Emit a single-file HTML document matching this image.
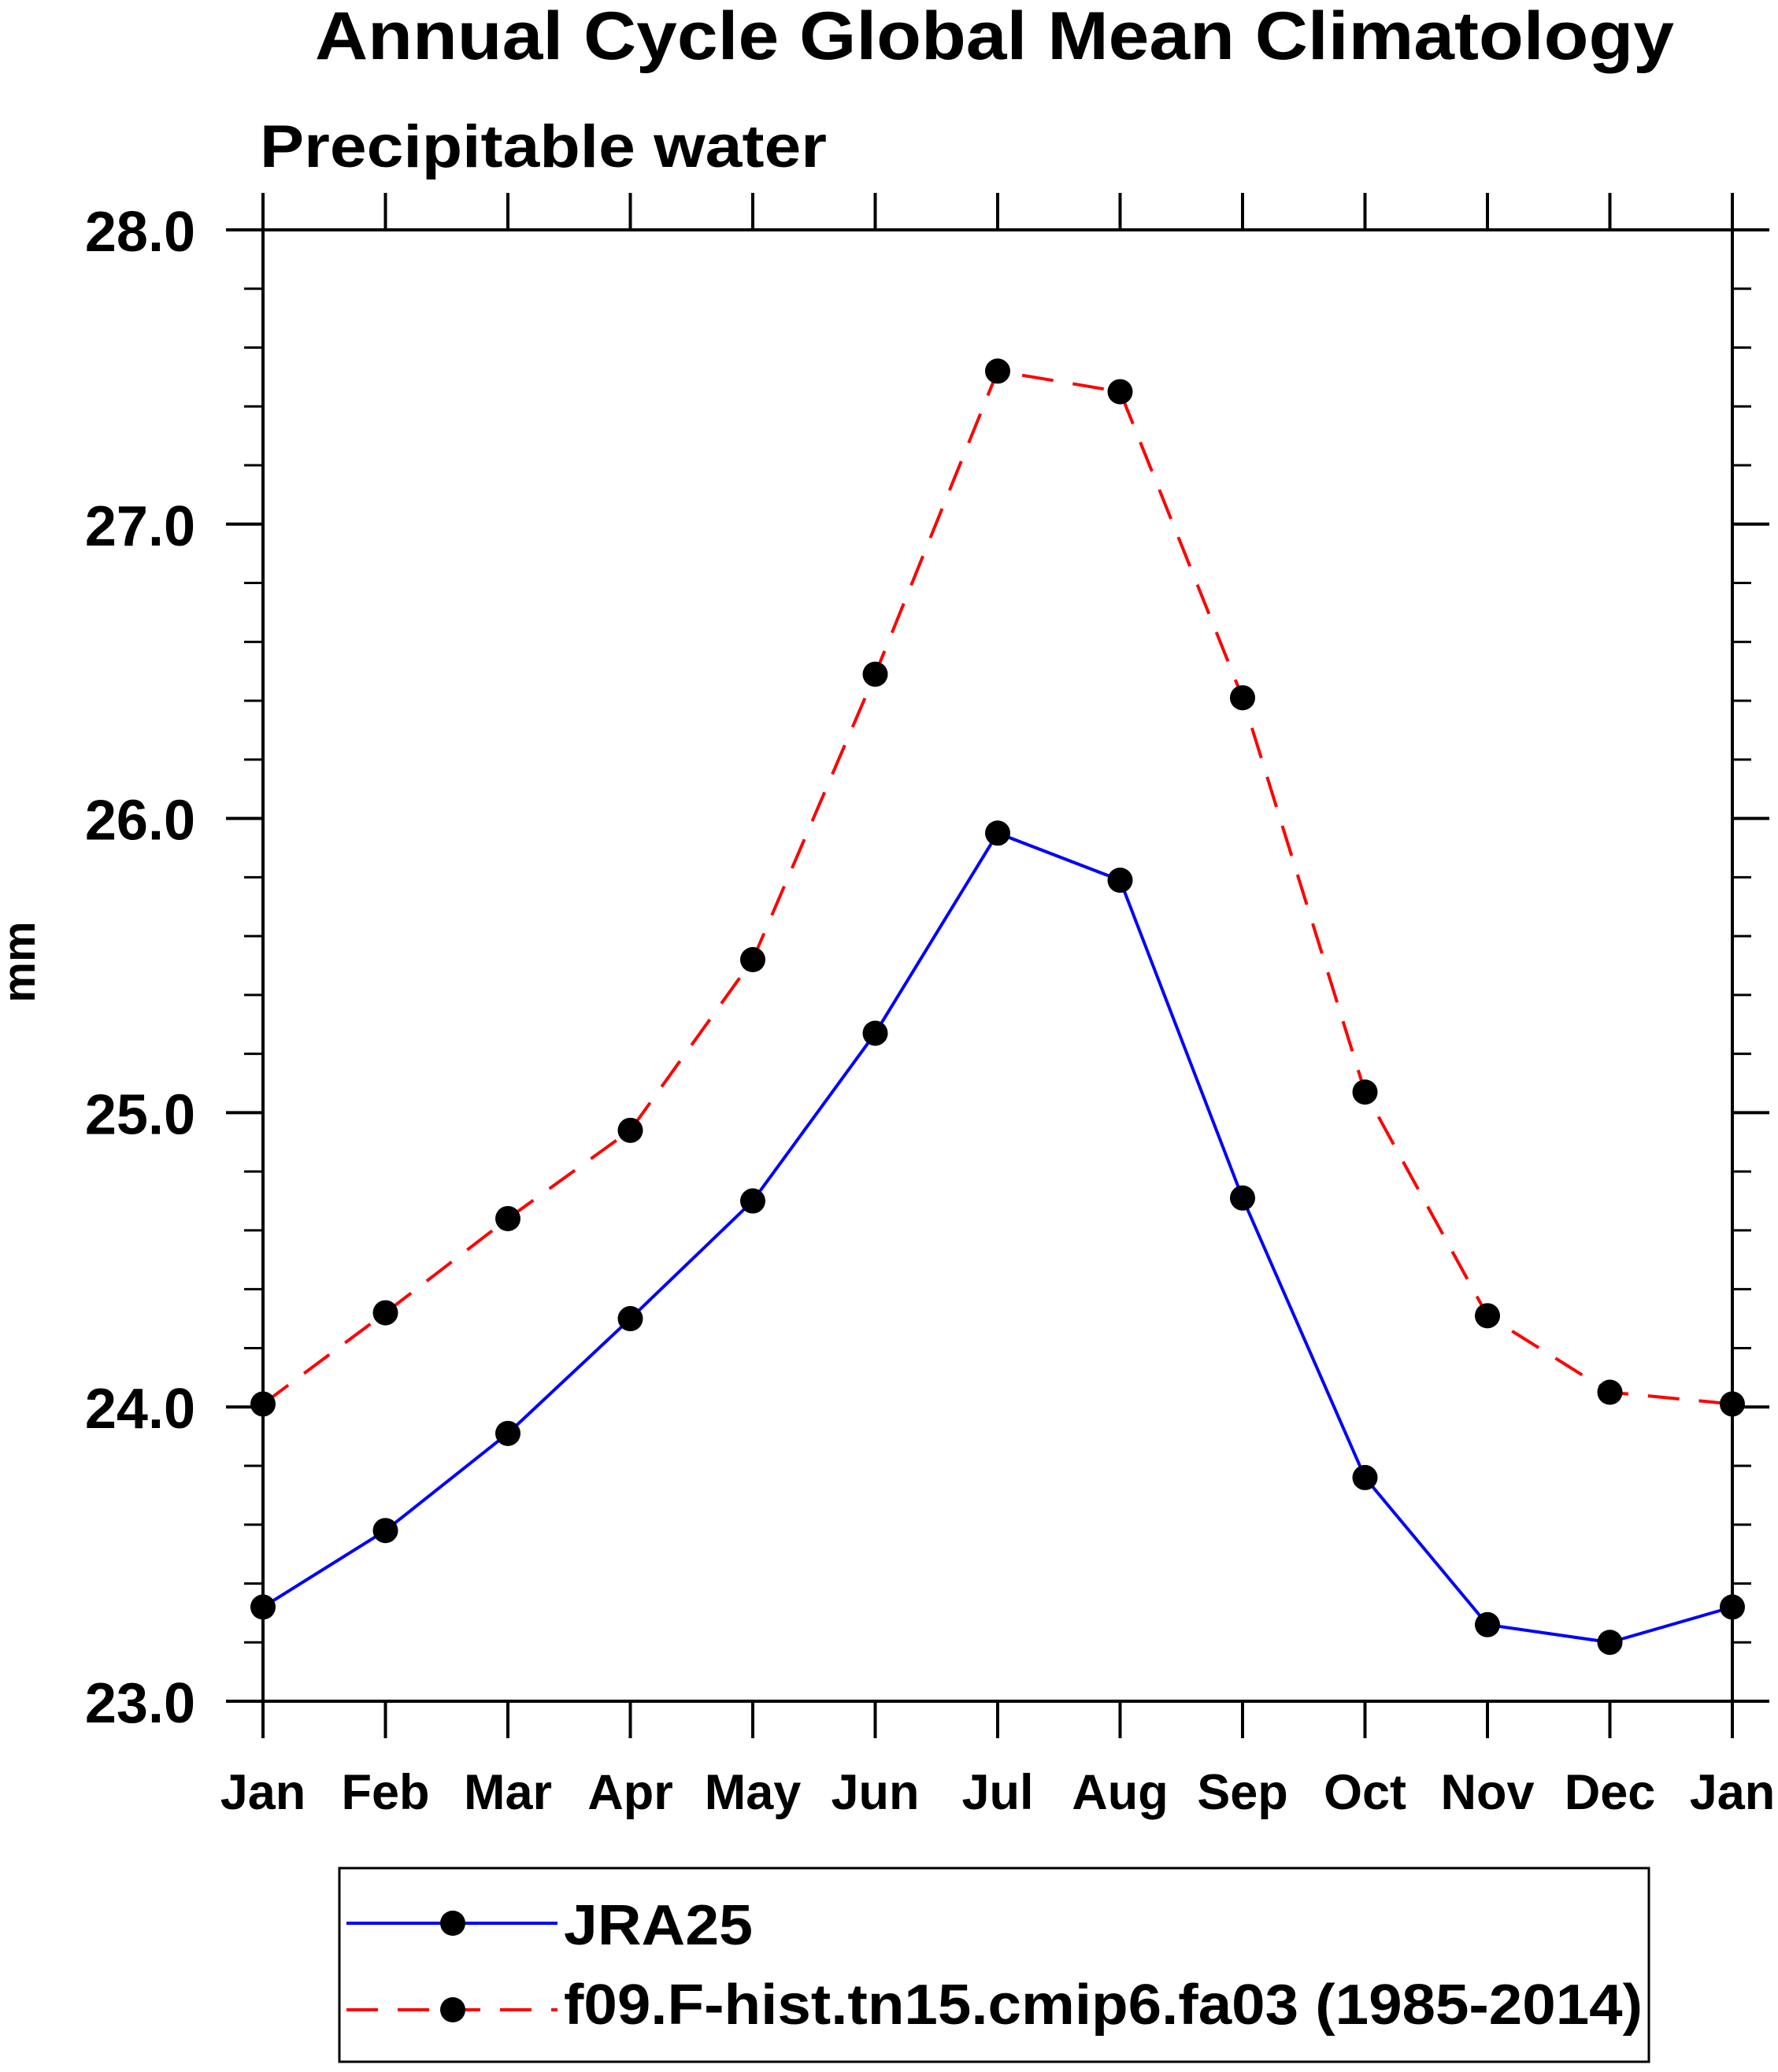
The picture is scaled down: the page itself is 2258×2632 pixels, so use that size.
<!DOCTYPE html>
<html><head><meta charset="utf-8"><style>
html,body{margin:0;padding:0;background:#fff;}
svg{display:block;font-family:"Liberation Sans",Arial,sans-serif;font-weight:bold;}
</style></head><body>
<svg id="chart" width="2258" height="2632" viewBox="0 0 2258 2632" xmlns="http://www.w3.org/2000/svg">
<text x="1263" y="75" font-size="86" text-anchor="middle" textLength="1726" lengthAdjust="spacingAndGlyphs">Annual Cycle Global Mean Climatology</text>
<text x="330" y="212" font-size="76" textLength="720" lengthAdjust="spacingAndGlyphs">Precipitable water</text>
<text transform="translate(44,1222) rotate(-90)" font-size="58" text-anchor="middle">mm</text>
<g id="axes"></g>
<g id="series"></g>
<g id="legend">
<rect x="431" y="2373" width="1663" height="246" fill="none" stroke="#000" stroke-width="3"/>
<g>
<line x1="440" y1="2443" x2="708" y2="2443" stroke="#0000ff" stroke-width="4"/>
<circle cx="575" cy="2443" r="16" fill="#000"/>
<text x="716" y="2470" font-size="72" textLength="240" lengthAdjust="spacingAndGlyphs">JRA25</text>
</g>
<g>
<line x1="440" y1="2553" x2="708" y2="2553" stroke="#ff0000" stroke-width="4" stroke-dasharray="40,25"/>
<circle cx="575" cy="2553" r="16" fill="#000"/>
<text x="716" y="2571" font-size="72" textLength="1370" lengthAdjust="spacingAndGlyphs">f09.F-hist.tn15.cmip6.fa03 (1985-2014)</text>
</g>
</g>
</svg>
<script>
const months = ["Jan","Feb","Mar","Apr","May","Jun","Jul","Aug","Sep","Oct","Nov","Dec","Jan"];
const jra25 = [23.32,23.58,23.91,24.30,24.70,25.27,25.95,25.79,24.71,23.76,23.26,23.20,23.32];
const model = [24.01,24.32,24.64,24.94,25.52,26.49,27.52,27.45,26.41,25.07,24.31,24.05,24.01];
const yTicks = [23.0,24.0,25.0,26.0,27.0,28.0];
const yTickLabels = ["23.0","24.0","25.0","26.0","27.0","28.0"];

const NS="http://www.w3.org/2000/svg";
const L=334,R=2200,T=292,B=2161,yMin=23,yMax=28;
function xs(i){return L+(R-L)*i/(months.length-1);}
function ys(v){return B-(v-yMin)/(yMax-yMin)*(B-T);}
function mk(tag,attrs,parent){const e=document.createElementNS(NS,tag);for(const k in attrs)e.setAttribute(k,attrs[k]);parent.appendChild(e);return e;}
const ax=document.getElementById('axes');
const frame=mk('rect',{x:L,y:T,width:R-L,height:B-T,fill:'none',stroke:'#000','stroke-width':4},ax);


months.forEach((m,i)=>{
  const x=xs(i);
  const t1=mk('line',{x1:x,y1:B,x2:x,y2:B+47,stroke:'#000','stroke-width':4},ax);
  
  
  const t2=mk('line',{x1:x,y1:T,x2:x,y2:T-47,stroke:'#000','stroke-width':4},ax);
  
  
  const lb=mk('text',{x:x,y:2298,'font-size':63,'text-anchor':'middle'},ax);
  lb.textContent=m;
  
  
});
for(let v=yMin;v<=yMax+1e-6;v+=0.2){
  const y=ys(v);
  const major=Math.abs(v-Math.round(v))<1e-6;
  const len=major?47:24;
  const a=mk('line',{x1:L-len,y1:y,x2:L,y2:y,stroke:'#000','stroke-width':major?4:3},ax);
  
  
  const b=mk('line',{x1:R,y1:y,x2:R+len,y2:y,stroke:'#000','stroke-width':major?4:3},ax);
  
  
}
yTicks.forEach((v,i)=>{
  const lb=mk('text',{x:248,y:ys(v)+27,'font-size':72,'text-anchor':'end'},ax);
  lb.textContent=yTickLabels[i];
  
  
});
const sg=document.getElementById('series');
function drawSeries(vals,color,dash,name){
  const g=mk('g',{},sg);
  
  
  const pts=vals.map((v,i)=>xs(i)+','+ys(v)).join(' ');
  const pl=mk('polyline',{points:pts,fill:'none',stroke:color,'stroke-width':4,'stroke-dasharray':dash},g);
  
  
  vals.forEach((v,i)=>{
    const c=mk('circle',{cx:xs(i),cy:ys(v),r:16,fill:'#000'},g);
    
    
  });
}
drawSeries(model,'#ff0000','40,25','model-series');
drawSeries(jra25,'#0000ff','none','jra25-series');
</script>
</body></html>
